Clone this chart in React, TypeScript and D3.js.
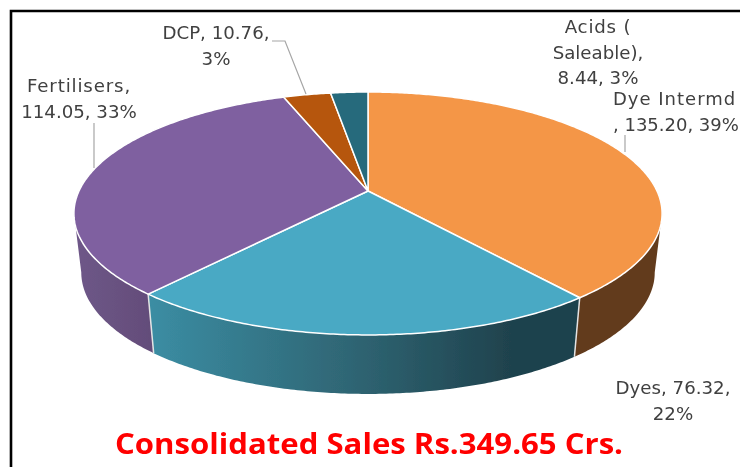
import React from 'react';
import * as d3 from 'd3';

const categories = ['Dye Intermd', 'Dyes', 'Fertilisers', 'DCP', 'Acids (Saleable)'];
const values = [135.2, 76.32, 114.05, 10.76, 8.44];
const topColors = ['#F49647', '#4AA9C4', '#7F61A0', '#B65708', '#276A7C'];
const labelLines = [
  ['Dye Intermd', ', 135.20, 39%'],
  ['Dyes, 76.32,', '22%'],
  ['Fertilisers,', '114.05, 33%'],
  ['DCP, 10.76,', '3%'],
  ['Acids (', 'Saleable),', '8.44, 3%'],
];
const title = 'Consolidated Sales Rs.349.65 Crs.';

const width = 740;
const height = 467;

// pie is tilted, so the centre sits above the middle of the ellipse
const cx = 368;
const cy = 191;
const radiusX = 289;
const radiusY = 117.3;
const tilt = 0.185;
const depth = 59;
const baseShrink = 0.975;

const project = (a: number): [number, number] => {
  const u = Math.sin(a);
  const v = -Math.cos(a);
  const w = 1 / (1 - tilt * v);
  return [cx + radiusX * u * w, cy + radiusY * v * w];
};
const projectBase = (a: number): [number, number] => {
  const [x, y] = project(a);
  return [cx + (x - cx) * baseShrink, y + depth];
};

const rim = (a0: number, a1: number) => {
  const n = Math.max(2, Math.ceil((a1 - a0) / 0.01));
  return d3.range(n + 1).map((i) => a0 + ((a1 - a0) * i) / n);
};

const line = d3.line();
const arcs = d3.pie<number>().sort(null)(values);

// the wall only shows between the two widest points of the ellipse
const wallStart = Math.acos(-tilt);
const wallEnd = 2 * Math.PI - wallStart;

const slicePath = (a0: number, a1: number) =>
  line([[cx, cy], ...rim(a0, a1).map(project)]) + 'Z';

const wallPath = (a0: number, a1: number) => {
  const angles = rim(a0, a1);
  return line([...angles.map(project), ...angles.slice().reverse().map(projectBase)]) + 'Z';
};

const wallFills = ['#623B1D', 'url(#dyesWall)', 'url(#fertWall)'];

const labelLayout = [
  { x: 613, y: 105, anchor: 'start' },
  { x: 673, y: 394, anchor: 'middle' },
  { x: 79, y: 92, anchor: 'middle' },
  { x: 216, y: 39, anchor: 'middle' },
  { x: 598, y: 33, anchor: 'middle' },
];
// the source text is stretched unevenly, first lines run wider
const firstLineSpacing = [1, 0, 0.85, 0, 0.8];

const leaders = ['M625,135V152', 'M94,123V168', 'M272,41H285L306,94'];

const App = () => {
  return (
    <svg
      width={width}
      height={height}
      style={{ position: 'absolute', left: 0, top: 0, background: '#fff' }}
    >
      <defs>
        <linearGradient id="dyesWall" gradientUnits="userSpaceOnUse" x1={150} x2={575} y1={0} y2={0}>
          <stop offset="0" stopColor="#3B8DA3" />
          <stop offset="0.5" stopColor="#2E6371" />
          <stop offset="0.85" stopColor="#1F424D" />
          <stop offset="1" stopColor="#1F424D" />
        </linearGradient>
        <linearGradient id="fertWall" gradientUnits="userSpaceOnUse" x1={76} x2={154} y1={0} y2={0}>
          <stop offset="0" stopColor="#6E5788" />
          <stop offset="1" stopColor="#634C79" />
        </linearGradient>
        <filter id="soft" x="-5%" y="-5%" width="110%" height="110%">
          <feGaussianBlur stdDeviation="0.5" />
        </filter>
      </defs>

      <g filter="url(#soft)">
        <path d="M740,11H11V467" fill="none" stroke="#000" strokeWidth={2.6} />

        {arcs.map((d, i) => {
          const a0 = Math.max(d.startAngle, wallStart);
          const a1 = Math.min(d.endAngle, wallEnd);
          if (a1 <= a0) return null;
          return <path key={categories[i]} d={wallPath(a0, a1)} fill={wallFills[i]} />;
        })}
        {arcs
          .map((d) => d.endAngle)
          .filter((a) => a > wallStart && a < wallEnd)
          .map((a) => (
            <path
              key={a}
              d={line([project(a), projectBase(a)]) as string}
              stroke="#E4E4E4"
              strokeWidth={1.5}
            />
          ))}
        {arcs.map((d, i) => (
          <path
            key={categories[i]}
            d={slicePath(d.startAngle, d.endAngle)}
            fill={topColors[i]}
            stroke="#fff"
            strokeWidth={1.5}
            strokeLinejoin="round"
          />
        ))}

        {leaders.map((p) => (
          <path key={p} d={p} fill="none" stroke="#A6A6A6" strokeWidth={1.2} />
        ))}

        {labelLines.map((lines, i) => (
          <text
            key={categories[i]}
            x={labelLayout[i].x}
            y={labelLayout[i].y}
            textAnchor={labelLayout[i].anchor}
            fontFamily="'DejaVu Sans', sans-serif"
            fontSize={i === 0 ? 18 : 18.2}
            fill="#404040"
          >
            {lines.map((t, j) => (
              <tspan
                key={t}
                x={labelLayout[i].x}
                dy={j === 0 ? 0 : 25.7}
                letterSpacing={j === 0 ? firstLineSpacing[i] : 0}
              >
                {t}
              </tspan>
            ))}
          </text>
        ))}

        <text
          x={369}
          y={454}
          textAnchor="middle"
          fontFamily="'Open Sans', sans-serif"
          fontWeight={700}
          fontSize={28}
          textLength={508}
          lengthAdjust="spacingAndGlyphs"
          fill="#FF0000"
        >
          {title}
        </text>
      </g>
    </svg>
  );
};

export default App;
